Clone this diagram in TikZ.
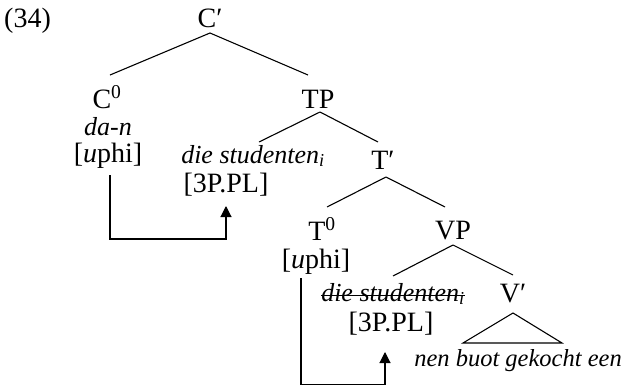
\documentclass[tikz,border=0pt]{standalone}
\usepackage{fontspec}
\setmainfont{Liberation Serif}
\usetikzlibrary{arrows.meta}
\tikzset{
  lbl/.style={anchor=base, inner sep=0pt, font=\fontsize{28}{32}\selectfont},
  itl/.style={lbl, font=\fontsize{26}{30}\selectfont\itshape},
  branch/.style={line width=1.1pt},
  agree/.style={line width=1.1pt, -{Triangle[length=11pt,width=11pt]}},
}
\begin{document}
\begin{tikzpicture}[x=1pt, y=-1pt]
  \useasboundingbox (0,0) rectangle (625,386);

  % example number
  \node[lbl, anchor=base west] (num) at (4,27) {(34)};

  % labels of the tree
  \node[lbl] (Cp)   at (210,27)  {C′};
  \node[lbl] (C0)   at (107,108) {C\textsuperscript{0}};
  \node[itl] (dan)  at (108,135) {da-n};
  \node[lbl] (uA)   at (108,162) {[\textit{u}phi]};
  \node[lbl] (TP)   at (318,108) {TP};
  \node[itl] (dsA)  at (253,163) {die studenten\textsubscript{i}};
  \node[lbl] (plA)  at (226,192) {[3P.PL]};
  \node[lbl] (Tp)   at (383,169) {T′};
  \node[lbl] (T0)   at (322,240) {T\textsuperscript{0}};
  \node[lbl] (uB)   at (316,268) {[\textit{u}phi]};
  \node[lbl] (VP)   at (453,239) {VP};
  \node[itl] (dsB)  at (393,301) {die studenten\textsubscript{i}};
  \node[lbl] (Vp)   at (513,302) {V′};
  \node[lbl] (plB)  at (391,331) {[3P.PL]};
  \node[itl, font=\fontsize{24.5}{28}\selectfont\itshape] (nen) at (518,366) {nen buot gekocht een};

  % branches
  \draw[branch] ([yshift=-6pt]Cp.base) -- ([xshift=3pt,yshift=33pt]C0.base);
  \draw[branch] ([yshift=-6pt]Cp.base) -- ([xshift=-10pt,yshift=33pt]TP.base);
  \draw[branch] ([xshift=2pt,yshift=-4pt]TP.base) -- ([xshift=6pt,yshift=21pt]dsA.base);
  \draw[branch] ([xshift=2pt,yshift=-4pt]TP.base) -- ([xshift=-5pt,yshift=27pt]Tp.base);
  \draw[branch] ([xshift=3pt,yshift=-8pt]Tp.base) -- ([xshift=5pt,yshift=33pt]T0.base);
  \draw[branch] ([xshift=3pt,yshift=-8pt]Tp.base) -- ([xshift=-8pt,yshift=32pt]VP.base);
  \draw[branch] ([yshift=-6pt]VP.base) -- ([yshift=25pt]dsB.base);
  \draw[branch] ([yshift=-6pt]VP.base) -- ([yshift=27pt]Vp.base);

  % roof over the V-bar material
  \draw[branch, line join=miter]
    ([yshift=-11pt]Vp.base) -- ([xshift=-50pt,yshift=-41pt]Vp.base)
    -- ([xshift=49pt,yshift=-41pt]Vp.base) -- cycle;

  % deleted copy of the subject
  \draw[line width=1pt] ([yshift=6pt]dsB.base west) -- ([yshift=6pt]dsB.base east);

  % agreement arrows
  \draw[agree] ([xshift=2pt,yshift=-13pt]uA.base) -- ++(0,64)
    -| ([yshift=-14pt]plA.base);
  \draw[agree] ([xshift=-15pt,yshift=-10pt]uB.base) -- ++(0,106.5)
    -| ([xshift=-6pt,yshift=-21pt]plB.base);
\end{tikzpicture}
\end{document}
